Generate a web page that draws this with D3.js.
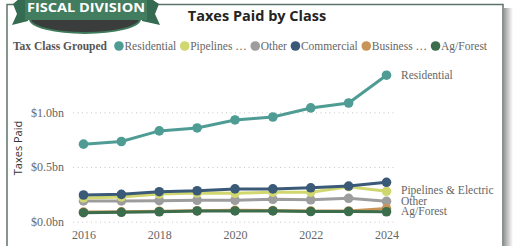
<!DOCTYPE html>
<html>
<head>
<meta charset="utf-8">
<script src="https://cdn.jsdelivr.net/npm/d3@7"></script>
<style>
  body { margin: 0; background: #fff; }
  svg { display: block; }
</style>
</head>
<body>
<div id="chart"></div>
<script>
// data (billions of dollars)
const years = [2016, 2017, 2018, 2019, 2020, 2021, 2022, 2023, 2024];
const classNames = ['Residential', 'Pipelines & Electric', 'Other', 'Commercial', 'Business Personal', 'Ag/Forest'];
const legendNames = ['Residential', 'Pipelines …', 'Other', 'Commercial', 'Business …', 'Ag/Forest'];
const residential = [0.709, 0.733, 0.83, 0.857, 0.93, 0.957, 1.04, 1.085, 1.339];
const pipelines = [0.217, 0.226, 0.253, 0.262, 0.26, 0.27, 0.27, 0.32, 0.278];
const other = [0.19, 0.19, 0.192, 0.196, 0.196, 0.205, 0.2, 0.214, 0.186];
const commercial = [0.244, 0.25, 0.274, 0.283, 0.30, 0.30, 0.31, 0.326, 0.36];
const business = [0.088, 0.09, 0.096, 0.1, 0.104, 0.102, 0.098, 0.098, 0.12];
const agForest = [0.082, 0.086, 0.091, 0.098, 0.098, 0.098, 0.093, 0.093, 0.091];
const yTicks = [0, 0.5, 1.0];
const labelled = ['Residential', 'Pipelines & Electric', 'Other', 'Ag/Forest'];

const colors = ['#4e9c94', '#d1d76f', '#9d9d9d', '#3a5a78', '#c99457', '#3c6d4c'];
const seriesVals = [residential, pipelines, other, commercial, business, agForest];

const serif = '"Liberation Serif", "Times New Roman", Times, serif';
const sans = '"Open Sans", "Segoe UI", sans-serif';

const W = 513, H = 246;
const svg = d3.select('#chart').append('svg')
  .attr('width', W).attr('height', H);

// card shadow + frame
const defs = svg.append('defs');
const grad = defs.append('linearGradient').attr('id', 'shadow');
grad.append('stop').attr('offset', '0%').attr('stop-color', '#9a9a9a');
grad.append('stop').attr('offset', '100%').attr('stop-color', '#fff');
svg.append('rect').attr('x', 504).attr('y', 8).attr('width', 9).attr('height', H)
  .attr('fill', 'url(#shadow)');
svg.append('rect').attr('x', 7).attr('y', 4.5).attr('width', 496).attr('height', 260)
  .attr('fill', '#fff').attr('stroke', '#5d7468').attr('stroke-width', 1.5);

// badge
const badge = svg.append('g');
badge.append('path')
  .attr('d', 'M30,19 A55,14 0 0 0 140,19 Z')
  .attr('fill', '#3a3d3c').attr('stroke', '#3f7a5b').attr('stroke-width', 2);
badge.append('polygon')
  .attr('points', '20,-2 28,-2 28,21 12,25 17,14 13,4')
  .attr('fill', '#356b50');
badge.append('polygon')
  .attr('points', '150,-2 142,-2 142,21 160,25 155,14 159,4')
  .attr('fill', '#356b50');
badge.append('rect').attr('x', 25).attr('y', -2).attr('width', 122).attr('height', 22)
  .attr('fill', '#437d60');
badge.append('text')
  .style('font-family', sans)
  .attr('x', 86).attr('y', 12)
  .attr('text-anchor', 'middle')
  .attr('font-weight', 700).attr('font-size', 13)
  .attr('textLength', 118).attr('lengthAdjust', 'spacingAndGlyphs')
  .attr('fill', '#fff')
  .text('FISCAL DIVISION');

// title
svg.append('text')
  .style('font-family', sans)
  .attr('x', 257).attr('y', 21)
  .attr('text-anchor', 'middle')
  .attr('font-weight', 700).attr('font-size', 14.5)
  .attr('fill', '#252423')
  .text('Taxes Paid by Class');

// legend
const legend = svg.append('g').attr('transform', 'translate(13,46)');
const lt = legend.append('text')
  .style('font-family', serif)
  .attr('x', 0).attr('dy', '0.35em')
  .attr('font-weight', 700).attr('font-size', 11.5)
  .attr('fill', '#555')
  .text('Tax Class Grouped');
let lx = lt.node().getComputedTextLength() + 12;
legendNames.forEach((name, i) => {
  legend.append('circle').attr('cx', lx).attr('cy', 0).attr('r', 4.8).attr('fill', colors[i]);
  const t = legend.append('text')
    .style('font-family', serif)
    .attr('x', lx + 5.5).attr('dy', '0.35em')
    .attr('font-size', 11.5)
    .attr('fill', '#666')
    .text(name);
  lx += 5.5 + t.node().getComputedTextLength() + 8.5;
});

// scales
const x = d3.scaleLinear().domain([2016, 2024]).range([83.5, 386.5]);
const y = d3.scaleLinear().domain([0, 1]).range([221.7, 112.3]);

// grid + y axis
const yAxis = svg.append('g')
  .attr('transform', 'translate(73,0)')
  .call(d3.axisLeft(y).tickValues(yTicks).tickSize(-324)
    .tickFormat(d => '$' + d3.format('.1f')(d) + 'bn').tickPadding(9));
yAxis.select('.domain').remove();
yAxis.selectAll('.tick line')
  .attr('stroke', '#c8c8c8').attr('stroke-dasharray', '1,3.5');
yAxis.selectAll('.tick text')
  .style('font-family', serif).attr('font-size', 12).attr('fill', '#666');

svg.append('text')
  .style('font-family', sans)
  .attr('transform', 'translate(22,148) rotate(-90)')
  .attr('text-anchor', 'middle')
  .attr('font-size', 11)
  .attr('fill', '#333')
  .text('Taxes Paid');

// x axis
const xAxis = svg.append('g')
  .attr('transform', 'translate(0,225)')
  .call(d3.axisBottom(x).tickValues([2016, 2018, 2020, 2022, 2024])
    .tickFormat(d3.format('d')).tickSize(0).tickPadding(5));
xAxis.select('.domain').remove();
xAxis.selectAll('.tick text')
  .style('font-family', serif).attr('font-size', 12).attr('fill', '#666');

// lines (draw bottom-most first so the order matches the overlaps)
const series = classNames.map((name, i) => ({
  name, color: colors[i],
  values: years.map((yr, j) => ({ year: yr, v: seriesVals[i][j] }))
}));
const drawOrder = [2, 1, 3, 4, 5, 0];
const line = d3.line().x(d => x(d.year)).y(d => y(d.v));
drawOrder.forEach(i => {
  const s = series[i];
  const g = svg.append('g');
  g.append('path').datum(s.values)
    .attr('d', line).attr('fill', 'none')
    .attr('stroke', s.color).attr('stroke-width', 3);
  g.selectAll('circle').data(s.values).join('circle')
    .attr('cx', d => x(d.year)).attr('cy', d => y(d.v))
    .attr('r', 4.8).attr('fill', s.color);
});

// end labels, pushed apart when too close
const ends = series.filter(s => labelled.includes(s.name))
  .map(s => ({ name: s.name, pos: y(s.values[s.values.length - 1].v) }))
  .sort((a, b) => a.pos - b.pos);
for (let i = ends.length - 2; i >= 0; i--) {
  if (ends[i + 1].pos - ends[i].pos < 10.5) ends[i].pos = ends[i + 1].pos - 10.5;
}
svg.selectAll('text.endlabel').data(ends).join('text')
  .attr('class', 'endlabel')
  .style('font-family', serif)
  .attr('x', 401).attr('y', d => d.pos).attr('dy', '0.3em')
  .attr('font-size', 11.5).attr('fill', '#666')
  .text(d => d.name);
</script>
</body>
</html>
